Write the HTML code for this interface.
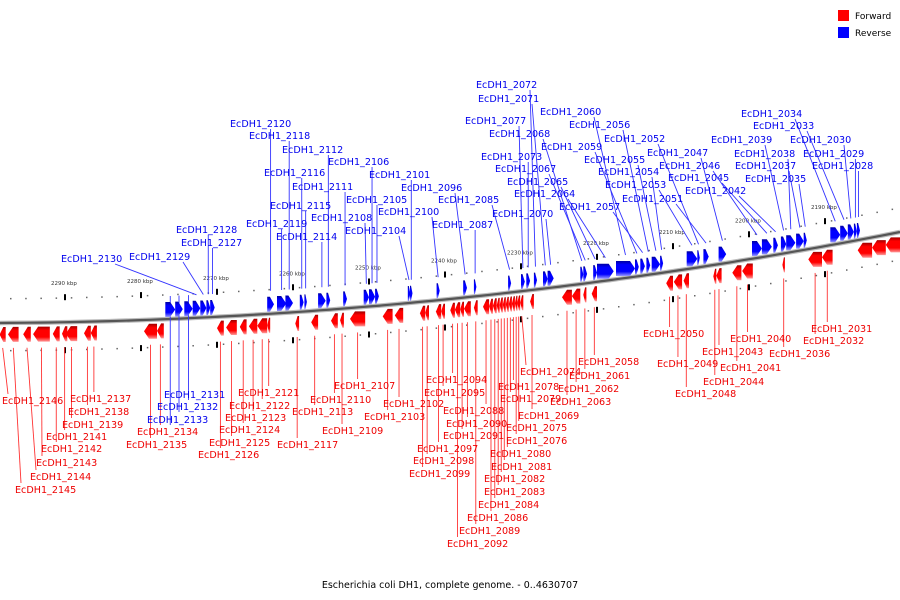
<!DOCTYPE html>
<html><head><meta charset="utf-8"><style>
html,body{margin:0;padding:0;background:#fff;}
svg{display:block;font-family:"DejaVu Sans","Liberation Sans",sans-serif;}
</style></head><body>
<svg id="map" width="900" height="600" viewBox="0 0 900 600">
<defs>
<linearGradient id="gr" x1="0" y1="0" x2="0" y2="1"><stop offset="0" stop-color="#a00000"/><stop offset="0.25" stop-color="#ff0000"/><stop offset="0.7" stop-color="#ff0000"/><stop offset="1" stop-color="#ff9a9a"/></linearGradient>
<linearGradient id="gb" x1="0" y1="0" x2="0" y2="1"><stop offset="0" stop-color="#0000a0"/><stop offset="0.25" stop-color="#0000ff"/><stop offset="0.7" stop-color="#0000ff"/><stop offset="1" stop-color="#9a9aff"/></linearGradient>
</defs>
<g id="ticks"></g>
<path id="backbone-shadow" fill="none" stroke="#bbb" stroke-width="4.5"/>
<path id="backbone" fill="none" stroke="#555" stroke-width="2.2"/>
<g id="leaders"></g>
<g id="genes"></g>
<g id="labels"></g>
<g>
<rect x="838" y="10" width="11" height="11" fill="#f00"/>
<text x="855" y="19" font-size="9" fill="#000">Forward</text>
<rect x="838" y="27" width="11" height="11" fill="#00f"/>
<text x="855" y="36" font-size="9" fill="#000">Reverse</text>
</g>
<text x="450" y="588" font-size="9.5" text-anchor="middle" fill="#000">Escherichia coli DH1, complete genome. - 0..4630707</text>
</svg>
<script>
// ticks (kbp)
const tickKbp = [2290,2280,2270,2260,2250,2240,2230,2220,2210,2200,2190];
// gene names, strands (1=forward, -1=reverse), start/end in kbp
const geneNames = ["EcDH1_2133","EcDH1_2132","EcDH1_2131","EcDH1_2130","EcDH1_2129","EcDH1_2128","EcDH1_2127","EcDH1_2120","EcDH1_2119","EcDH1_2118","EcDH1_2116","EcDH1_2115","EcDH1_2114","EcDH1_2112","EcDH1_2111","EcDH1_2108","EcDH1_2106","EcDH1_2105","EcDH1_2104","EcDH1_2101","EcDH1_2100","EcDH1_2096","EcDH1_2087","EcDH1_2085","EcDH1_2077","EcDH1_2073","EcDH1_2072","EcDH1_2071","EcDH1_2070","EcDH1_2068","EcDH1_2067","EcDH1_2065","EcDH1_2064","EcDH1_2060","EcDH1_2059","EcDH1_2057","EcDH1_2056","EcDH1_2055","EcDH1_2054","EcDH1_2053","EcDH1_2052","EcDH1_2051","EcDH1_2047","EcDH1_2046","EcDH1_2045","EcDH1_2042","EcDH1_2039","EcDH1_2038","EcDH1_2037","EcDH1_2035","EcDH1_2034","EcDH1_2033","EcDH1_2030","EcDH1_2029","EcDH1_2028",
"EcDH1_2146","EcDH1_2145","EcDH1_2144","EcDH1_2143","EcDH1_2142","EcDH1_2141","EcDH1_2139","EcDH1_2138","EcDH1_2137","EcDH1_2135","EcDH1_2134","EcDH1_2126","EcDH1_2125","EcDH1_2124","EcDH1_2123","EcDH1_2122","EcDH1_2121","EcDH1_2117","EcDH1_2113","EcDH1_2110","EcDH1_2109","EcDH1_2107","EcDH1_2103","EcDH1_2102","EcDH1_2099","EcDH1_2098","EcDH1_2097","EcDH1_2095","EcDH1_2094","EcDH1_2092","EcDH1_2091","EcDH1_2090","EcDH1_2089","EcDH1_2088","EcDH1_2086","EcDH1_2084","EcDH1_2083","EcDH1_2082","EcDH1_2081","EcDH1_2080","EcDH1_2079","EcDH1_2078","EcDH1_2076","EcDH1_2075","EcDH1_2074","EcDH1_2069","EcDH1_2063","EcDH1_2062","EcDH1_2061","EcDH1_2058","EcDH1_2050","EcDH1_2049","EcDH1_2048","EcDH1_2044","EcDH1_2043","EcDH1_2041","EcDH1_2040","EcDH1_2036","EcDH1_2032","EcDH1_2031","","",""];
const geneStrand = [-1,-1,-1,-1,-1,-1,-1,-1,-1,-1,-1,-1,-1,-1,-1,-1,-1,-1,-1,-1,-1,-1,-1,-1,-1,-1,-1,-1,-1,-1,-1,-1,-1,-1,-1,-1,-1,-1,-1,-1,-1,-1,-1,-1,-1,-1,-1,-1,-1,-1,-1,-1,-1,-1,-1,
1,1,1,1,1,1,1,1,1,1,1,1,1,1,1,1,1,1,1,1,1,1,1,1,1,1,1,1,1,1,1,1,1,1,1,1,1,1,1,1,1,1,1,1,1,1,1,1,1,1,1,1,1,1,1,1,1,1,1,1,1,1,1];
const geneStart = [2276.8,2275.5,2274.3,2273.2,2272.2,2271.4,2270.9,2263.4,2262.1,2261.0,2259.1,2258.5,2256.7,2255.6,2253.4,2250.7,2250.0,2249.2,2244.9,2244.6,2241.1,2237.6,2236.2,2231.7,2230.0,2229.3,2228.3,2227.1,2226.5,2222.2,2221.8,2220.5,2220.0,2217.5,2215.0,2214.3,2213.5,2212.8,2211.7,2208.2,2206.8,2206.0,2204.0,2199.6,2198.3,2196.8,2195.8,2195.1,2193.8,2192.8,2189.3,2188.0,2187.0,2186.2,2185.8,
2298.6,2297.5,2295.5,2294.2,2291.6,2290.4,2289.9,2287.5,2286.6,2279.6,2277.9,2270.0,2268.8,2267.0,2265.8,2264.7,2263.4,2259.7,2257.6,2255.0,2253.8,2252.5,2248.2,2246.6,2243.3,2242.6,2241.2,2240.5,2239.3,2238.7,2238.0,2237.5,2236.2,2235.0,2234.2,2233.7,2233.2,2232.8,2232.4,2232.0,2231.6,2231.2,2230.8,2230.5,2230.1,2228.8,2224.6,2223.3,2221.8,2220.7,2210.9,2209.9,2208.6,2204.7,2204.3,2202.2,2200.9,2195.6,2192.2,2190.4,2185.7,2183.8,2182.0];
const geneEnd = [2275.5,2274.5,2273.2,2272.2,2271.4,2270.9,2270.3,2262.5,2260.9,2260.0,2258.6,2258.2,2255.7,2255.1,2252.9,2250.0,2249.2,2248.7,2244.6,2244.3,2240.7,2237.1,2235.9,2231.3,2229.5,2228.8,2227.9,2226.5,2225.7,2221.8,2221.3,2220.0,2217.8,2215.0,2214.5,2213.7,2213.0,2211.7,2211.3,2206.8,2206.5,2205.3,2203.0,2198.3,2197.0,2196.2,2195.1,2193.9,2192.8,2192.4,2188.0,2187.0,2186.2,2185.8,2185.4,
2297.8,2296.1,2294.5,2292.0,2290.7,2289.7,2288.4,2286.6,2285.8,2277.9,2277.0,2269.1,2267.4,2266.1,2264.7,2263.4,2263.0,2259.2,2256.7,2254.1,2253.3,2250.5,2246.9,2245.5,2242.6,2242.1,2240.5,2240.0,2238.7,2238.0,2237.5,2236.6,2235.7,2234.2,2233.7,2233.2,2232.8,2232.4,2232.0,2231.6,2231.2,2230.8,2230.5,2230.1,2229.7,2228.3,2223.3,2222.2,2221.4,2220.0,2210.0,2208.8,2207.9,2204.3,2203.6,2201.0,2199.5,2195.3,2190.4,2189.0,2183.8,2182.0,2180.1];
// label layout: name, x, y (layout, not data)
const labelLayout = [["EcDH1_2072",476,84],["EcDH1_2071",478,98],["EcDH1_2077",465,120],["EcDH1_2068",489,133],["EcDH1_2060",540,111],["EcDH1_2056",569,124],["EcDH1_2073",481,156],["EcDH1_2067",495,168],["EcDH1_2059",541,146],["EcDH1_2052",604,138],["EcDH1_2055",584,159],["EcDH1_2054",598,171],["EcDH1_2065",507,181],["EcDH1_2064",514,193],["EcDH1_2053",605,184],["EcDH1_2051",622,198],["EcDH1_2070",492,213],["EcDH1_2057",559,206],["EcDH1_2047",647,152],["EcDH1_2046",659,165],["EcDH1_2045",668,177],["EcDH1_2042",685,190],["EcDH1_2034",741,113],["EcDH1_2033",753,125],["EcDH1_2039",711,139],["EcDH1_2030",790,139],["EcDH1_2038",734,153],["EcDH1_2029",803,153],["EcDH1_2037",735,165],["EcDH1_2028",812,165],["EcDH1_2035",745,178],["EcDH1_2120",230,123],["EcDH1_2118",249,135],["EcDH1_2112",282,149],["EcDH1_2106",328,161],["EcDH1_2116",264,172],["EcDH1_2101",369,174],["EcDH1_2111",292,186],["EcDH1_2096",401,187],["EcDH1_2105",346,199],["EcDH1_2085",438,199],["EcDH1_2115",270,205],["EcDH1_2108",311,217],["EcDH1_2100",378,211],["EcDH1_2087",432,224],["EcDH1_2119",246,223],["EcDH1_2104",345,230],["EcDH1_2114",276,236],["EcDH1_2128",176,229],["EcDH1_2127",181,242],["EcDH1_2129",129,256],["EcDH1_2130",61,258],
["EcDH1_2131",164,394],["EcDH1_2132",157,406],["EcDH1_2133",147,419],
["EcDH1_2146",2,400],["EcDH1_2137",70,398],["EcDH1_2138",68,411],["EcDH1_2139",62,424],["EcDH1_2141",46,436],["EcDH1_2142",41,448],["EcDH1_2143",36,462],["EcDH1_2144",30,476],["EcDH1_2145",15,489],["EcDH1_2134",137,431],["EcDH1_2135",126,444],["EcDH1_2121",238,392],["EcDH1_2122",229,405],["EcDH1_2123",225,417],["EcDH1_2124",219,429],["EcDH1_2125",209,442],["EcDH1_2126",198,454],["EcDH1_2117",277,444],["EcDH1_2113",292,411],["EcDH1_2110",310,399],["EcDH1_2109",322,430],["EcDH1_2107",334,385],["EcDH1_2102",383,403],["EcDH1_2103",364,416],["EcDH1_2094",426,379],["EcDH1_2095",424,392],["EcDH1_2088",443,410],["EcDH1_2090",446,423],["EcDH1_2091",443,435],["EcDH1_2097",417,448],["EcDH1_2098",413,460],["EcDH1_2099",409,473],["EcDH1_2074",520,371],["EcDH1_2078",498,386],["EcDH1_2079",500,398],["EcDH1_2069",518,415],["EcDH1_2075",506,427],["EcDH1_2076",506,440],["EcDH1_2080",490,453],["EcDH1_2081",491,466],["EcDH1_2082",484,478],["EcDH1_2083",484,491],["EcDH1_2084",478,504],["EcDH1_2086",467,517],["EcDH1_2089",459,530],["EcDH1_2092",447,543],["EcDH1_2058",578,361],["EcDH1_2061",569,375],["EcDH1_2062",558,388],["EcDH1_2063",550,401],["EcDH1_2050",643,333],["EcDH1_2049",657,363],["EcDH1_2043",702,351],["EcDH1_2040",730,338],["EcDH1_2041",720,367],["EcDH1_2044",703,381],["EcDH1_2048",675,393],["EcDH1_2036",769,353],["EcDH1_2031",811,328],["EcDH1_2032",803,340]];

const NS='http://www.w3.org/2000/svg';
function xs(k){return 65+(2290-k)*7.6;}
function yl(x){return 323-0.00556*x-1.0617e-4*x*x;}
function mk(tag,attrs,parent){const e=document.createElementNS(NS,tag);for(const k in attrs)e.setAttribute(k,attrs[k]);parent.appendChild(e);return e;}

// backbone
let d='';for(let x=0;x<=900;x+=10)d+=(x?'L':'M')+x+' '+yl(x).toFixed(1);
document.getElementById('backbone').setAttribute('d',d);
document.getElementById('backbone-shadow').setAttribute('d',d);

// minor dots and ticks
const tg=document.getElementById('ticks');
for(let x=10;x<900;x+=15.2){
  [-25,27].forEach(o=>{const r=mk('rect',{x:x.toFixed(1),y:(yl(x)+o).toFixed(1),width:1.5,height:1.5,fill:'#666'},tg);
  
  });
}
tickKbp.forEach(k=>{
  const x=xs(k),y=yl(x);
  const a=mk('rect',{x:x-1,y:y-28,width:2,height:6,fill:'#000'},tg);
  
  
  const b=mk('rect',{x:x-1,y:y+25,width:2,height:6,fill:'#000'},tg);
  
  
  const t=mk('text',{x:x-14,y:y-37,'font-size':5.5,fill:'#333'},tg);
  t.textContent=k+' kbp';
  
  
});

// genes
const gg=document.getElementById('genes');
const mids={};
geneNames.forEach((n,i)=>{
  let x1=xs(geneStart[i]),x2=xs(geneEnd[i]);if(x1>x2){const t=x1;x1=x2;x2=t;}
  const w=Math.max(x2-x1,2.5),xm=x1+w/2,y0=yl(xm);
  const fwd=geneStrand[i]===1;
  const top=fwd?y0+4:y0-17,h=15,hd=Math.min(5,w*0.6);
  let pts;
  if(fwd) pts=[[x1,top+h/2],[x1+hd,top],[x1+w,top],[x1+w,top+h],[x1+hd,top+h]];
  else pts=[[x1,top],[x1+w-hd,top],[x1+w,top+h/2],[x1+w-hd,top+h],[x1,top+h]];
  const p=mk('polygon',{points:pts.map(q=>q[0].toFixed(1)+','+q[1].toFixed(1)).join(' '),fill:fwd?'url(#gr)':'url(#gb)'},gg);
  
  
  if(n) mids[n]={x:xm,y:fwd?top+h+6:top-6,fwd:fwd};
});

// labels and leaders
const lg=document.getElementById('labels'),ld=document.getElementById('leaders');
labelLayout.forEach(([n,lx,ly])=>{
  const g=mids[n];if(!g)return;
  const below=g.y>yl(g.x);
  const t=mk('text',{x:lx,y:ly+4,'font-size':9.6,fill:g.fwd?'#e00':'#00e'},lg);
  t.textContent=n;
  
  
  const ax=Math.min(Math.max(g.x,lx+6),lx+54);
  const ay=below?ly-6:ly+6;
  const l=mk('line',{x1:ax,y1:ay,x2:g.x,y2:g.y,stroke:g.fwd?'#f33':'#33f','stroke-width':0.9},ld);
  
  
});
</script>
</body></html>
